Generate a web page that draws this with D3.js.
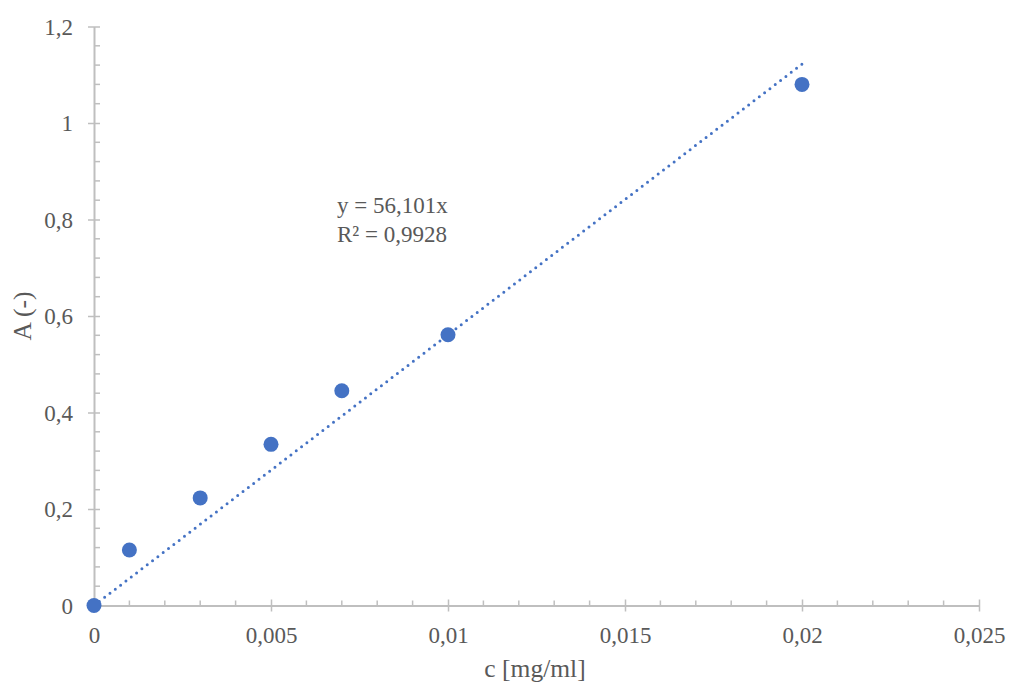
<!DOCTYPE html>
<html>
<head>
<meta charset="utf-8">
<script src="https://cdn.jsdelivr.net/npm/d3@7"></script>
<style>
  body { margin: 0; background: #fff; }
  text { font-family: "Liberation Serif", "Times New Roman", serif; fill: #595959; }
</style>
</head>
<body>
<div id="chart"></div>
<script>
// DATA
var conc = [0, 0.001, 0.003, 0.005, 0.007, 0.01, 0.02];
var absorb = [0, 0.115, 0.223, 0.334, 0.445, 0.561, 1.08];
var slope = 56.101;
var trendRange = [0, 0.02];
var xTicks = [0, 0.005, 0.01, 0.015, 0.02, 0.025];
var yTicks = [0, 0.2, 0.4, 0.6, 0.8, 1, 1.2];
var eqLines = ["y = 56,101x", "R\u00B2 = 0,9928"];

var W = 1009, H = 687;
var serif = "'Liberation Serif', 'Times New Roman', serif";
var svg = d3.select("#chart").append("svg")
  .attr("width", W).attr("height", H);

//SCALES
var x = d3.scaleLinear().domain([0, 0.025]).range([94, 979]);
var y = d3.scaleLinear().domain([0, 1.2]).range([605.5, 26.5]);

var fmt = function(d) { return String(+d.toFixed(4)).replace(".", ","); };
var grey = "#bfbfbf";

//MINOR TICKS
var xMinor = d3.range(0, 0.0251, 0.001).filter(function(d, i) { return i % 5 !== 0; });
var yMinor = d3.range(0, 1.2001, 0.04).filter(function(d, i) { return i % 5 !== 0; });

svg.selectAll(".xminor").data(xMinor).enter().append("line")
  .attr("x1", function(d) { return x(d); })
  .attr("x2", function(d) { return x(d); })
  .attr("y1", y(0) - 5).attr("y2", y(0))
  .attr("stroke", grey).attr("stroke-width", 1.5);

svg.selectAll(".yminor").data(yMinor).enter().append("line")
  .attr("x1", x(0)).attr("x2", x(0) + 6)
  .attr("y1", function(d) { return y(d); })
  .attr("y2", function(d) { return y(d); })
  .attr("stroke", grey).attr("stroke-width", 1.5);

//AXES
var xAxis = d3.axisBottom(x).tickValues(xTicks).tickFormat(fmt).tickSizeInner(6).tickSizeOuter(0);
var yAxis = d3.axisLeft(y).tickValues(yTicks).tickFormat(fmt).tickSizeInner(6).tickSizeOuter(0).tickPadding(15);

var gx = svg.append("g").attr("transform", "translate(0," + y(0) + ")").call(xAxis);
var gy = svg.append("g").attr("transform", "translate(" + x(0) + ",0)").call(yAxis);

[gx, gy].forEach(function(g) {
  g.attr("font-family", serif).attr("font-size", 23);
  g.select(".domain").attr("stroke", grey).attr("stroke-width", 2);
  g.selectAll(".tick line").attr("stroke", grey).attr("stroke-width", 1.5);
  g.selectAll(".tick text").attr("fill", "#595959")
    .style("font-family", serif)
    .style("font-size", "23px");
});
gx.selectAll(".tick line").attr("y1", -6);
gx.selectAll(".tick text").attr("y", 37).attr("dy", 0);
gy.selectAll(".tick line").attr("x2", 6).attr("x1", -6);
gy.selectAll(".tick text").attr("dy", "0.33em");

//TRENDLINE
svg.append("line")
  .attr("x1", x(trendRange[0])).attr("y1", y(slope * trendRange[0]))
  .attr("x2", x(trendRange[1])).attr("y2", y(slope * trendRange[1]))
  .attr("stroke", "#4472c4").attr("stroke-width", 3)
  .attr("stroke-linecap", "round").attr("stroke-dasharray", "0,6.7");

//POINTS
svg.selectAll("circle.pt").data(conc).enter().append("circle")
  .attr("class", "pt")
  .attr("cx", function(d) { return x(d); })
  .attr("cy", function(d, i) { return y(absorb[i]); })
  .attr("r", 7.5)
  .attr("fill", "#4472c4");

//EQUATION LABEL
svg.selectAll("text.eq").data(eqLines).enter().append("text")
  .attr("class", "eq")
  .attr("x", 337)
  .attr("y", function(d, i) { return 213 + i * 28.5; })
  .style("font-family", serif)
  .style("font-size", "23px")
  .text(function(d) { return d; });

//AXIS TITLES
svg.append("text")
  .attr("x", 535).attr("y", 677)
  .style("text-anchor", "middle").style("font-size", "25.5px")
  .style("font-family", serif)
  .text("c [mg/ml]");

svg.append("text")
  .attr("transform", "translate(31," + y(0.6) + ") rotate(-90)")
  .style("text-anchor", "middle").style("font-size", "25.5px")
  .style("font-family", serif)
  .text("A (-)");
</script>
</body>
</html>
